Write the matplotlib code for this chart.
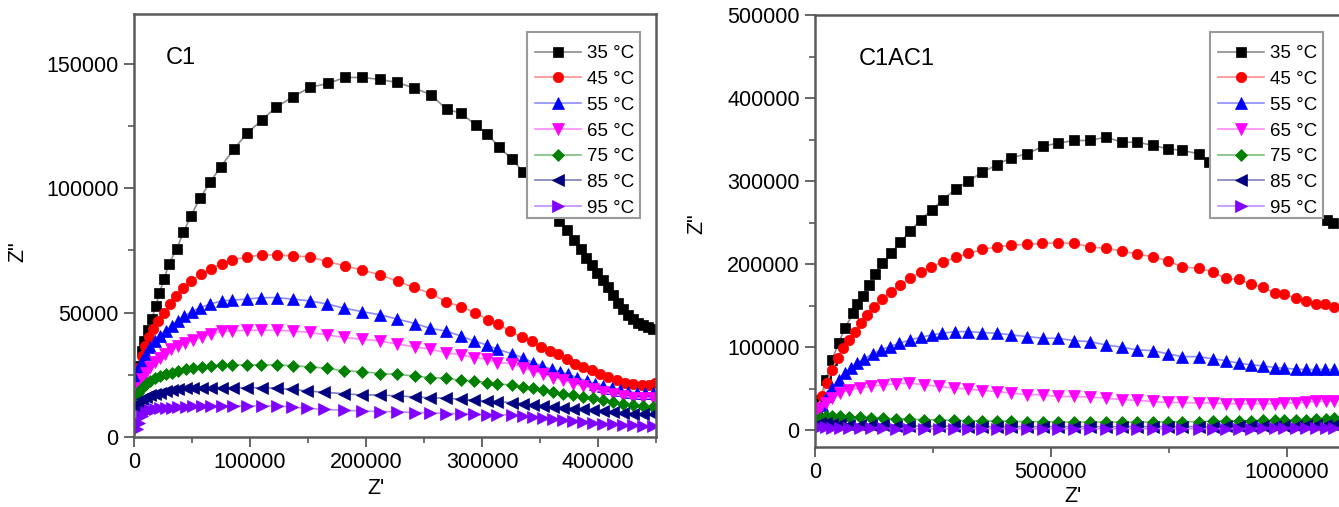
import matplotlib
matplotlib.use("Agg")
import matplotlib.pyplot as plt
from matplotlib.patches import Rectangle
from matplotlib.ticker import FixedLocator, MultipleLocator

plt.rcParams['font.family'] = ['Liberation Sans', 'DejaVu Sans']

# ---------------- data: C1 ----------------
temps = ["35 °C", "45 °C", "55 °C", "65 °C", "75 °C", "85 °C", "95 °C"]

c1_re_35 = [1500, 3500, 6600, 8900, 12300, 15300, 19000, 21800, 26100, 29900,
            36800, 42500, 49100, 56900, 65500, 74700, 86200, 97200, 110300, 122400,
            137300, 151700, 167000, 181900, 196800, 212100, 226500, 241400, 255800, 269500,
            281600, 294600, 304600, 314900, 326100, 335100, 345000, 356000, 366600, 373000,
            379000, 385000, 390000, 395000, 399000, 404600, 408900, 413200, 417500, 421800,
            426100, 430400, 434700, 439100, 443400, 447700]
c1_im_35 = [22500, 28500, 34600, 38600, 42900, 47600, 52700, 58000, 63400, 69500,
            75500, 82200, 88900, 96000, 102300, 108600, 115700, 122000, 127400, 132500,
            136800, 140500, 142100, 144500, 144500, 143700, 142500, 140300, 137600, 131700,
            130200, 125400, 121800, 116400, 111600, 106700, 101000, 94000, 86900, 83000,
            79000, 75500, 72000, 69000, 66000, 63000, 60100, 57100, 54000, 51400,
            49100, 47400, 46000, 45100, 44300, 43300]

c1_re_45 = [1500, 3700, 6600, 9500, 12900, 16600, 21000, 26100, 31000, 36200,
            42500, 49100, 57800, 66400, 75600, 84800, 97100, 110100, 123000, 137300,
            151700, 166700, 181900, 196300, 212100, 227300, 241600, 255800, 269000, 281600,
            294000, 305500, 314100, 324100, 334200, 342800, 350600, 358600, 365800, 373000,
            380200, 387300, 394600, 401700, 408900, 416100, 423300, 430400, 437700, 444200,
            449100]
c1_im_45 = [22500, 27900, 32600, 36600, 40000, 43300, 46700, 50000, 53400, 56700,
            59700, 62800, 65400, 67700, 69700, 71100, 72400, 73200, 73200, 72700,
            72400, 70500, 68800, 67100, 65200, 62500, 60100, 57700, 54400, 52400,
            50000, 46900, 45300, 42600, 40000, 38600, 36200, 34600, 33300, 31300,
            29500, 28200, 26800, 25500, 24100, 22800, 21800, 21200, 20900, 20900,
            21800]

c1_re_55 = [1500, 3700, 6600, 10100, 13800, 18100, 22400, 27300, 32500, 37700,
            43400, 49700, 56900, 65500, 75600, 84800, 97100, 109500, 123000, 137300,
            151700, 166700, 181000, 196300, 212100, 227000, 242200, 255200, 269000, 281600,
            293100, 304000, 312700, 325600, 335100, 344200, 351500, 360100, 367200, 374400,
            382200, 390200, 397400, 404600, 411800, 419000, 426100, 433400, 440500, 447700]
c1_im_55 = [23900, 27200, 30600, 33500, 36200, 38600, 40600, 42600, 44700, 46700,
            48700, 50400, 52000, 53400, 54700, 55000, 55400, 56000, 56000, 55400,
            54700, 53400, 51800, 50400, 49100, 47400, 45600, 43700, 42600, 40600,
            38600, 37000, 35300, 33500, 31900, 29900, 28600, 27200, 26300, 25200,
            23900, 22500, 21400, 20500, 19600, 18800, 18200, 17800, 17600, 17800]

c1_re_65 = [1500, 3700, 6600, 10100, 13800, 18100, 22400, 26700, 31900, 37700,
            44000, 51100, 58400, 66400, 75600, 84800, 97100, 109500, 123000, 137300,
            151700, 166700, 181000, 196300, 212100, 227000, 242200, 255200, 269000, 281600,
            293100, 304000, 312700, 325600, 335100, 344200, 352800, 361500, 370100, 378700,
            387300, 396000, 404600, 413200, 421800, 430400, 439100, 447700]
c1_im_65 = [16500, 19800, 23200, 25900, 28200, 30300, 31900, 33500, 35300, 36600,
            37900, 38900, 40000, 41300, 42400, 42600, 42900, 42900, 42900, 42600,
            42000, 41000, 40000, 39300, 38600, 37300, 36200, 35300, 33900, 33000,
            31900, 31300, 29900, 29500, 27900, 26600, 25200, 23900, 22800, 21400,
            20500, 19200, 18200, 17200, 16500, 15800, 15600, 15800]

c1_re_75 = [1500, 3700, 6600, 10100, 13800, 18100, 22400, 27300, 32500, 38200,
            44600, 51100, 58400, 66400, 75600, 84800, 97100, 109500, 123000, 137300,
            151700, 166700, 181000, 196300, 212100, 227000, 242200, 255200, 269000, 281600,
            293100, 304000, 312700, 325600, 335100, 344200, 352800, 361500, 370100, 378700,
            387300, 396000, 404600, 413200, 421800, 430400, 439100, 447700]
c1_im_75 = [14800, 17800, 19800, 21200, 22500, 23600, 24500, 25200, 25900, 26600,
            27200, 27900, 28200, 28600, 29000, 29000, 29000, 29000, 29000, 28600,
            28200, 27600, 26600, 26300, 25500, 25200, 24500, 23900, 23600, 22800,
            22500, 21800, 21400, 20900, 20100, 19600, 18800, 18200, 17400, 16900,
            16100, 15600, 14800, 14200, 13400, 12900, 12500, 12100]

c1_re_85 = [1500, 3700, 6600, 10100, 13800, 18100, 22400, 27300, 32500, 38200,
            44600, 51100, 58400, 66400, 75600, 85600, 97100, 110100, 123000, 136000,
            148900, 164000, 181000, 196300, 212100, 227000, 242200, 255200, 269000, 281600,
            293100, 304000, 312700, 325600, 335100, 344200, 352800, 361500, 370100, 378700,
            387300, 396000, 404600, 413200, 421800, 430400, 439100, 447700]
c1_im_85 = [12100, 13800, 15200, 16100, 16900, 17400, 17800, 18500, 18800, 19200,
            19600, 19600, 19800, 19800, 19800, 19800, 19800, 19800, 19600, 19200,
            18500, 18000, 17400, 16900, 16900, 16500, 16100, 15800, 15600, 15200,
            14800, 14500, 14200, 13800, 13400, 12900, 12500, 12100, 11800, 11400,
            11100, 10700, 10500, 10200, 9800, 9400, 9100, 9100]

c1_re_95 = [2300, 4300, 6600, 10100, 13800, 18100, 22400, 27300, 32500, 38200,
            44600, 51100, 58400, 66400, 75600, 85600, 97100, 110100, 123000, 136000,
            148900, 164000, 181000, 196300, 212100, 227000, 242200, 255200, 269000, 281600,
            293100, 304000, 312700, 325600, 335100, 344200, 352800, 361500, 370100, 378700,
            387300, 396000, 404600, 413200, 421800, 430400, 439100, 447700]
c1_im_95 = [3100, 5800, 8400, 10200, 10700, 11100, 11500, 11800, 11800, 12100,
            12100, 12500, 12500, 12500, 12500, 12500, 12500, 12500, 12500, 12100,
            11500, 11100, 10700, 10500, 10200, 10200, 9800, 9800, 9400, 9400,
            9100, 8900, 8900, 8900, 8400, 8000, 7800, 7100, 6700, 6400,
            6200, 5800, 5400, 5100, 4800, 4700, 4400, 4400]

# ---------------- data: C1AC1 ----------------
ac_re_35 = [5000, 11000, 23000, 36000, 50000, 63000, 81000, 89000, 101000, 115000,
            128000, 143000, 161000, 181000, 202000, 224000, 249000, 271000, 298000, 325000,
            355000, 386000, 416000, 450000, 484000, 515000, 550000, 583000, 617000, 651000,
            683000, 717000, 748000, 778000, 814000, 836000, 862000, 892000, 922000, 952000,
            982000, 1012000, 1042000, 1085000, 1099000]
ac_im_35 = [20900, 36900, 60900, 84900, 104900, 122900, 141000, 151700, 162100, 174900,
            188100, 201000, 213000, 226900, 239700, 253800, 265800, 277800, 290200, 300100,
            310900, 319800, 328200, 333000, 342100, 345700, 349000, 349000, 353000, 346900,
            346900, 343000, 339000, 337000, 333000, 323000, 316000, 307000, 298000, 289000,
            280000, 272000, 264000, 253000, 249700]

ac_re_45 = [5000, 14000, 25000, 36000, 48000, 59000, 72000, 84000, 98000, 110000,
            125000, 143000, 161000, 181000, 202000, 224000, 246000, 271000, 298000, 325000,
            355000, 386000, 416000, 450000, 482000, 515000, 550000, 583000, 617000, 651000,
            683000, 717000, 748000, 778000, 814000, 843000, 871000, 898000, 924000, 949000,
            975000, 995000, 1020000, 1040000, 1062000, 1081000, 1101000]
ac_im_45 = [26900, 40800, 56900, 72900, 86900, 98900, 108900, 118800, 128900, 138900,
            148900, 158100, 166900, 174900, 182900, 190900, 196900, 202900, 208200, 213000,
            217800, 220900, 222900, 224100, 225000, 225700, 225000, 220900, 219000, 216100,
            212100, 208900, 204100, 196900, 195000, 190900, 182900, 181800, 176100, 172100,
            165700, 164100, 158900, 155700, 152100, 152100, 148900]

ac_re_55 = [5000, 14000, 25000, 36000, 50000, 63000, 77000, 90000, 104000, 122000,
            140000, 158000, 179000, 202000, 224000, 247000, 270000, 297000, 325000, 355000,
            386000, 416000, 450000, 484000, 515000, 550000, 583000, 617000, 651000, 683000,
            717000, 748000, 778000, 814000, 843000, 871000, 898000, 924000, 949000, 975000,
            995000, 1020000, 1040000, 1062000, 1081000, 1101000]
ac_im_55 = [20900, 30900, 40800, 50900, 60900, 68900, 74900, 80900, 86100, 92100,
            96900, 100900, 104900, 108900, 112100, 114900, 116900, 118900, 118900, 117700,
            116900, 114900, 112900, 110900, 110900, 108000, 106800, 102900, 100100, 96900,
            96000, 92100, 88800, 88800, 86100, 84000, 80900, 78900, 77700, 75600,
            74900, 73700, 73300, 73300, 73300, 73300]

ac_re_low = [3000, 11000, 23000, 36000, 54000, 72000, 95000, 118000, 145000, 172000,
             199000, 231000, 262000, 294000, 325000, 355000, 386000, 416000, 450000, 484000,
             515000, 550000, 583000, 617000, 651000, 683000, 717000, 748000, 778000, 814000,
             843000, 871000, 898000, 924000, 949000, 975000, 995000, 1020000, 1040000, 1062000,
             1083000, 1101000]
ac_im_65 = [20900, 26900, 32900, 38900, 44900, 48900, 50900, 52900, 54900, 56100,
            56900, 54900, 52900, 50900, 49700, 48000, 46800, 44900, 42900, 42900,
            40800, 40800, 40100, 38900, 36900, 36100, 34800, 33600, 33600, 32900,
            32900, 32100, 32100, 32100, 32100, 32100, 32900, 32900, 33600, 34800,
            34800, 35500]
ac_im_75 = [12000, 15500, 17000, 17500, 17000, 16500, 16000, 15500, 14500, 14000,
            13500, 13000, 12500, 12000, 11500, 11500, 11000, 11000, 10500, 10500,
            10000, 10000, 10000, 10000, 10000, 10000, 10000, 10500, 10500, 10500,
            11000, 11000, 11500, 11500, 12000, 12000, 12500, 12500, 13000, 13500,
            14000, 14500]
ac_im_85 = [7000, 8500, 8500, 8000, 7500, 7000, 6500, 6000, 6000, 5500,
            5500, 5000, 5000, 5000, 4500, 4500, 4500, 4500, 4500, 4500,
            4500, 4500, 4500, 4500, 4500, 4500, 4500, 4500, 4500, 4500,
            4500, 5000, 5000, 5000, 5000, 5500, 5500, 5500, 6000, 6000,
            6500, 6500]
ac_im_95 = [3000, 3500, 3500, 3000, 3000, 2500, 2500, 2500, 2500, 2000,
            2000, 2000, 2000, 2000, 2000, 2000, 2000, 2000, 2000, 2000,
            2000, 2000, 2000, 2000, 2000, 2000, 2000, 2000, 2000, 2000,
            2000, 2000, 2000, 2000, 2500, 2500, 2500, 2500, 2500, 3000,
            3000, 3000]

# tick labels
c1_xticks = [0, 100000, 200000, 300000, 400000]
c1_yticks = [0, 50000, 100000, 150000]
ac_xticks = [0, 500000, 1000000]
ac_yticks = [0, 100000, 200000, 300000, 400000, 500000]

# ---------------- styling ----------------
marker_colors = ["#000000", "#ff0000", "#0000ff", "#ff00ff", "#008000", "#000080", "#7f00ff"]
line_colors = ["#8c8c8c", "#ff8c8c", "#8c8cff", "#ff8cff", "#7fbf7f", "#7f7fbf", "#bf8cff"]
markers = ["s", "o", "^", "v", "D", "<", ">"]
msizes = [6.5, 7.5, 8, 8, 6.5, 8, 8]
spine_col = "#5a5a5a"

W, H = 1339, 507
fig = plt.figure(figsize=(W / 100, H / 100), dpi=100)


def px(x, y):
    return x / W, 1 - y / H


def style_axes(ax):
    for s in ax.spines.values():
        s.set_color(spine_col)
        s.set_linewidth(1.8)
    ax.tick_params(which="major", direction="out", length=7, width=1.3,
                   color=spine_col, labelsize=15.5, pad=4)
    ax.tick_params(which="minor", direction="out", length=4, width=1.2, color=spine_col)


def draw(ax, series):
    for i, (re, im) in enumerate(series):
        ax.plot(re, im, color=line_colors[i], lw=1.2, marker=markers[i],
                ms=msizes[i], mfc=marker_colors[i], mec=marker_colors[i],
                mew=0.5, label=temps[i], clip_on=True)


def add_legend(ax, box_px):
    # box_px: left, top, right, bottom of the legend frame in figure pixels
    x0, y0, x1, y1 = box_px
    frame = Rectangle(px(x0, y1), (x1 - x0) / W, (y1 - y0) / H,
                      transform=fig.transFigure, facecolor="white",
                      edgecolor="#9a9a9a", lw=1.5, zorder=4.5, clip_on=False)
    ax.add_patch(frame)
    anchor = ax.transAxes.inverted().transform(
        fig.transFigure.transform(px(x1 + 1, y0 + 6)))
    ax.legend(loc="upper right", bbox_to_anchor=tuple(anchor), fontsize=13.5,
              frameon=False, handlelength=2.45, handletextpad=0.28,
              labelspacing=0.46, borderpad=0.38, borderaxespad=0, numpoints=1)


# ---- left panel: C1 ----
ax1 = fig.add_axes([134 / W, 1 - 437 / H, 522 / W, 423 / H])
draw(ax1, [(c1_re_35, c1_im_35), (c1_re_45, c1_im_45), (c1_re_55, c1_im_55),
           (c1_re_65, c1_im_65), (c1_re_75, c1_im_75), (c1_re_85, c1_im_85),
           (c1_re_95, c1_im_95)])
ax1.set_xlim(0, 450000)
ax1.set_ylim(0, 170000)
ax1.xaxis.set_major_locator(FixedLocator(c1_xticks))
ax1.set_xticklabels([str(v) for v in c1_xticks])
ax1.yaxis.set_major_locator(FixedLocator(c1_yticks))
ax1.set_yticklabels([str(v) for v in c1_yticks])
ax1.xaxis.set_minor_locator(MultipleLocator(50000))
ax1.yaxis.set_minor_locator(MultipleLocator(25000))
style_axes(ax1)
add_legend(ax1, (527, 32, 640, 218))
fig.text(*px(181, 58), "C1", fontsize=17, ha="center", va="center")
fig.text(*px(376, 489), "Z'", fontsize=15.5, ha="center", va="center")
fig.text(*px(18, 252), 'Z"', fontsize=15.5, ha="center", va="center", rotation=90)

# ---- right panel: C1AC1 ----
ax2 = fig.add_axes([815 / W, 1 - 447 / H, 566 / W, 432 / H])
draw(ax2, [(ac_re_35, ac_im_35), (ac_re_45, ac_im_45), (ac_re_55, ac_im_55),
           (ac_re_low, ac_im_65), (ac_re_low, ac_im_75), (ac_re_low, ac_im_85),
           (ac_re_low, ac_im_95)])
ax2.set_xlim(0, 1200000)
ax2.set_ylim(-20000, 500000)
ax2.xaxis.set_major_locator(FixedLocator(ac_xticks))
ax2.set_xticklabels([str(v) for v in ac_xticks])
ax2.yaxis.set_major_locator(FixedLocator(ac_yticks))
ax2.set_yticklabels([str(v) for v in ac_yticks])
ax2.xaxis.set_minor_locator(MultipleLocator(250000))
ax2.yaxis.set_minor_locator(MultipleLocator(50000))
style_axes(ax2)
add_legend(ax2, (1210, 32, 1323, 218))
fig.text(*px(897, 59), "C1AC1", fontsize=17, ha="center", va="center")
fig.text(*px(1073, 497), "Z'", fontsize=15.5, ha="center", va="center")
fig.text(*px(697, 224), 'Z"', fontsize=15.5, ha="center", va="center", rotation=90)

fig.savefig("out.png", dpi=100)
